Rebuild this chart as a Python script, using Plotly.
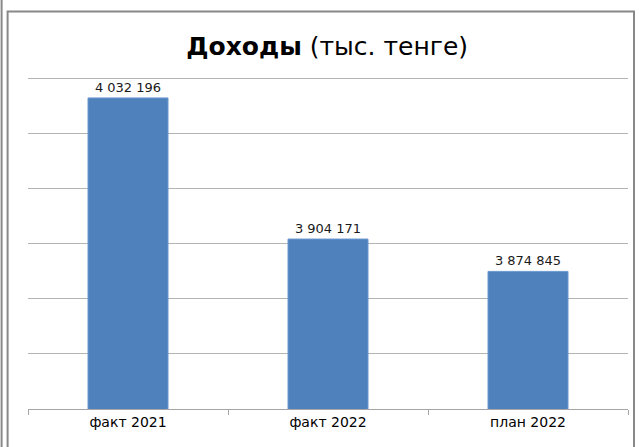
import plotly.graph_objects as go

categories = ["факт 2021", "факт 2022", "план 2022"]
values = [4032196, 3904171, 3874845]
labels = [f"{v:,}".replace(",", " ") for v in values]

fig = go.Figure()
fig.add_trace(go.Bar(x=categories, y=values, text=labels,
                     textposition="outside", cliponaxis=False,
                     textfont={'size': 13, 'color': '#1a1a1a'},
                     marker={'color': '#4F81BD', 'line': {'color': '#6a98cf', 'width': 1}},
                     width=0.4, showlegend=False))

fig.update_layout(
    width=639, height=447,
    margin={'l': 28, 'r': 11, 't': 75, 'b': 38},
    paper_bgcolor='white', plot_bgcolor='white',
    font={'family': 'DejaVu Sans, sans-serif', 'color': '#000'},
    title={'text': "<b>Доходы</b> (тыс. тенге)", 'x': 0.512, 'xanchor': 'center',
           'y': 0.897, 'yanchor': 'middle', 'font': {'size': 25, 'color': '#000'}},
    xaxis={'showline': True, 'linecolor': '#a6a6a6', 'linewidth': 1,
           'ticks': 'outside', 'ticklen': 5, 'tickcolor': '#a6a6a6',
           'tickson': 'boundaries', 'tickfont': {'size': 14}, 'fixedrange': True},
    yaxis={'range': [3750000, 4053000], 'dtick': 50000, 'tick0': 3750000,
           'showticklabels': False, 'showgrid': True, 'gridcolor': '#b3b3b3',
           'zeroline': False, 'showline': False},
    bargap=0.6,
    shapes=[
        {'type': 'line', 'xref': 'paper', 'yref': 'paper', 'x0': -0.044, 'x1': -0.044,
         'y0': -0.2, 'y1': 1.3, 'line': {'color': '#888', 'width': 2}},
        {'type': 'rect', 'xref': 'paper', 'yref': 'paper', 'x0': -0.034, 'x1': 1.01,
         'y0': -0.2, 'y1': 1.19, 'line': {'color': '#888', 'width': 2}},
    ],
)

fig.write_html("out.html", config={'displayModeBar': False},
               post_script="document.body.style.margin='0';")
